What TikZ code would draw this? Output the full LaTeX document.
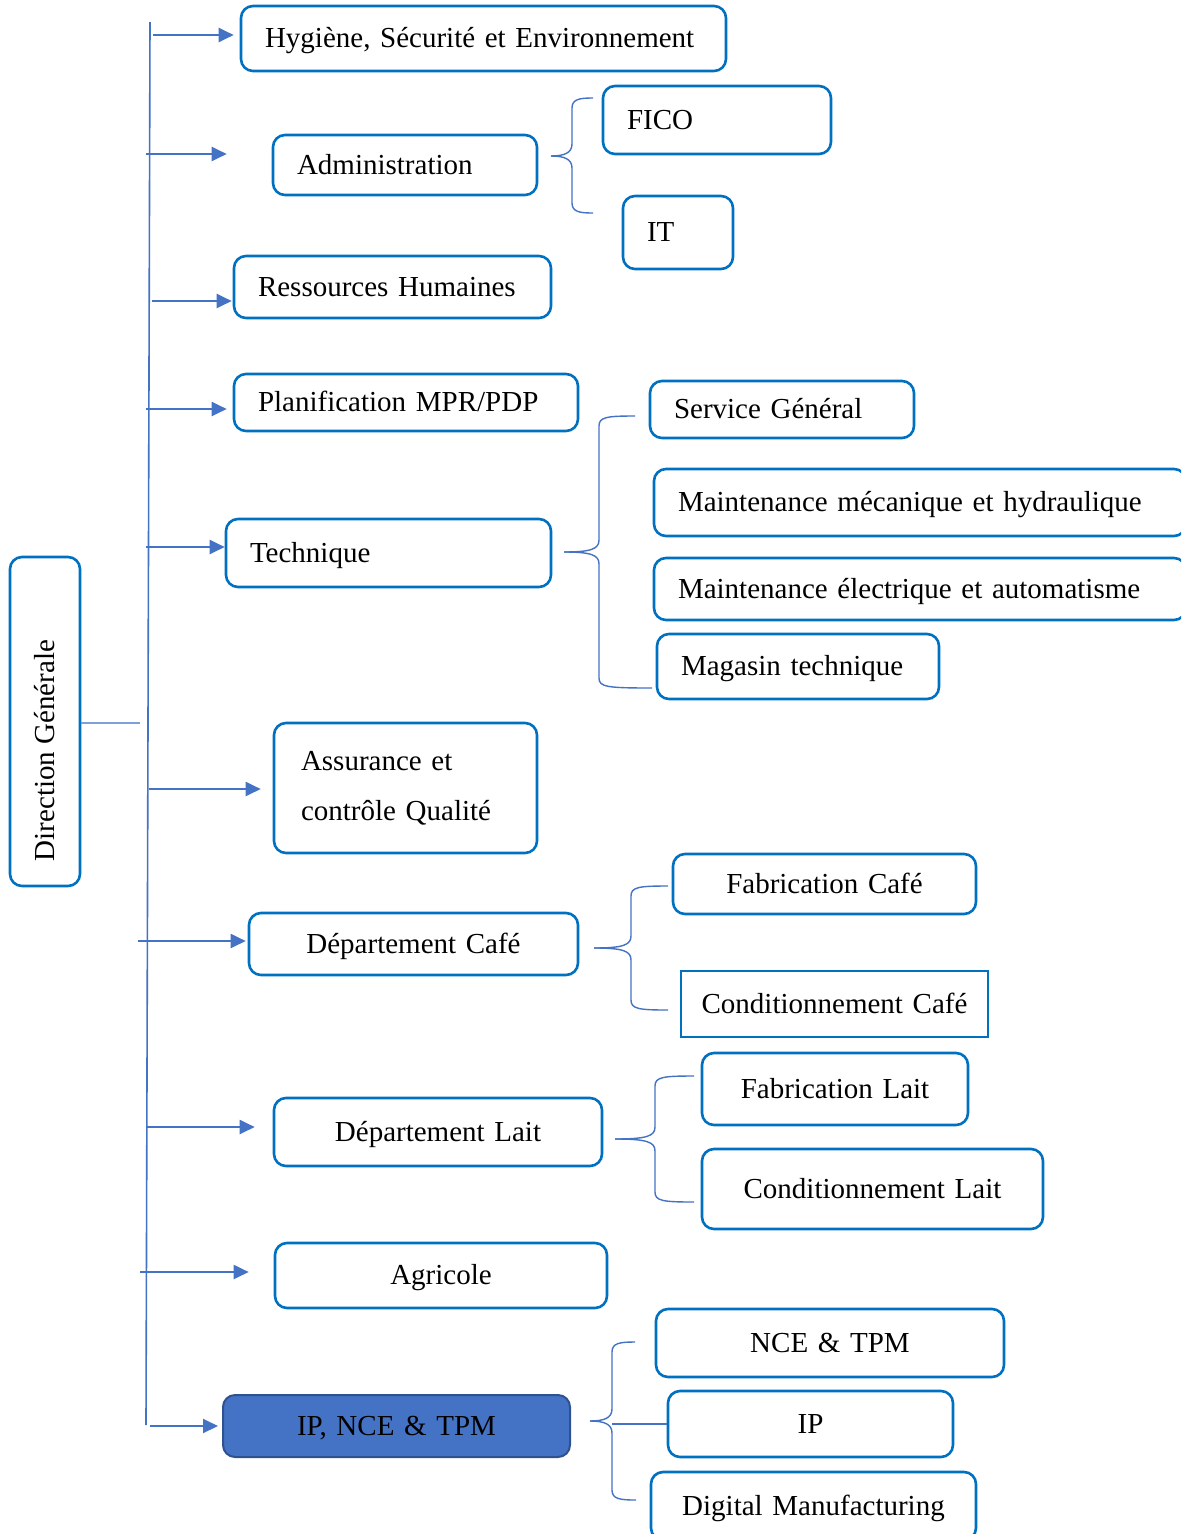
\documentclass[tikz,border=0pt]{standalone}
\usepackage{fontspec}
\setmainfont{Liberation Serif}
\usetikzlibrary{arrows.meta,calc}
\definecolor{boxblue}{HTML}{0070C0}
\definecolor{arrblue}{HTML}{4472C4}
\definecolor{darkblue}{HTML}{2F528F}
\definecolor{lineblue}{HTML}{7F9FDA}
\tikzset{
  box/.style={draw=boxblue, line width=2.6pt, rounded corners=12pt, fill=white,
    font=\fontsize{29}{35}\selectfont, inner ysep=0pt, text height=19pt, text depth=1pt},
  lbox/.style={box, align=left, inner xsep=24pt},
  cbox/.style={box, align=center, inner xsep=10pt},
  arr/.style={draw=arrblue, line width=2pt, -{Triangle[length=15pt,width=14pt]}},
  brace/.style={draw=arrblue, line width=1.4pt},
  spine/.style={draw=arrblue, line width=1.6pt},
}
\newcommand\orgbrace[7]{% tipx tipy xv ytop xtop ybot xbot
  \draw[brace] (#5,#4) .. controls ({#3+8},#4) and (#3,{#4+1}) .. (#3,{#4+10})
     -- (#3,{#2-12}) .. controls (#3,{#2-3}) and ({#3-8},#2) .. (#1,#2);
  \draw[brace] (#1,#2) .. controls ({#3-8},#2) and (#3,{#2+3}) .. (#3,{#2+12})
     -- (#3,{#6-10}) .. controls (#3,{#6-1}) and ({#3+8},#6) .. (#7,#6);}
\begin{document}
\begin{tikzpicture}[x=1pt,y=-1pt]
\useasboundingbox (0,0) rectangle (1181,1534);
\clip (0,0) rectangle (1181,1534);
\fill[white] (0,0) rectangle (1181,1534);

% spine
\coordinate (sptop) at (150,22);
\coordinate (spbot) at (146,1425);
\draw[spine] (sptop) -- (spbot);

% Direction Generale
\node[box, rotate=90, minimum width=329pt, minimum height=70pt, inner xsep=0pt] (dg) at (45,721.5)
  {Direction Générale\hspace*{58pt}};
\coordinate (dgend) at (140,723);
\draw[draw=lineblue, line width=1.2pt] (dg.south |- dgend) -- (dgend);

% first-level boxes
\node[lbox, minimum width=485pt, minimum height=65pt, text width=437pt] (hse) at (483.5,38.5) {Hygiène, Sécurité et Environnement};
\node[lbox, minimum width=264pt, minimum height=60pt, text width=216pt] (adm) at (405,165) {Administration};
\node[lbox, minimum width=317pt, minimum height=62pt, text width=269pt] (rh) at (392.5,287) {Ressources Humaines};
\node[lbox, minimum width=344pt, minimum height=57pt, text width=296pt] (plan) at (406,402.5) {Planification MPR/PDP};
\node[lbox, minimum width=325pt, minimum height=68pt, text width=277pt] (tech) at (388.5,553) {Technique};
\node[lbox, minimum width=263pt, minimum height=130pt, text width=209pt, inner xsep=27pt,
      text height=, text depth=, font=\fontsize{29}{50}\selectfont] (aqc) at (405.5,788) {Assurance et\\contrôle Qualité};
\node[cbox, minimum width=329pt, minimum height=62pt, text width=309pt] (dcafe) at (413.5,944) {Département Café};
\node[cbox, minimum width=328pt, minimum height=68pt, text width=308pt] (dlait) at (438,1132) {Département Lait};
\node[cbox, minimum width=332pt, minimum height=65pt, text width=312pt] (agri) at (441,1275.5) {Agricole};
\node[cbox, minimum width=347pt, minimum height=62pt, text width=327pt, draw=darkblue, fill=arrblue,
      line width=2pt] (ipn) at (396.5,1426) {IP, NCE \& TPM};

% second-level boxes
\node[lbox, minimum width=228pt, minimum height=68pt, text width=180pt] (fico) at (717,120) {FICO};
\node[lbox, minimum width=110pt, minimum height=73pt, text width=62pt] (it) at (678,232.5) {IT};
\node[lbox, minimum width=264pt, minimum height=57pt, text width=216pt] (sg) at (782,409.5) {Service Général};
\node[lbox, minimum width=532pt, minimum height=67pt, text width=484pt] (mmh) at (920,502.5) {Maintenance mécanique et hydraulique};
\node[lbox, minimum width=532pt, minimum height=62pt, text width=484pt] (mea) at (920,589) {Maintenance électrique et automatisme};
\node[lbox, minimum width=282pt, minimum height=65pt, text width=234pt] (mag) at (798,666.5) {Magasin technique};
\node[cbox, minimum width=303pt, minimum height=60pt, text width=283pt] (fcafe) at (824.5,884) {Fabrication Café};
\node[cbox, minimum width=307pt, minimum height=66pt, text width=287pt, rounded corners=0pt] (ccafe) at (834.5,1004) {Conditionnement Café};
\node[cbox, minimum width=266pt, minimum height=72pt, text width=246pt] (flait) at (835,1089) {Fabrication Lait};
\node[cbox, minimum width=341pt, minimum height=80pt, text width=321pt] (clait) at (872.5,1189) {Conditionnement Lait};
\node[cbox, minimum width=348pt, minimum height=68pt, text width=328pt] (nce) at (830,1343) {NCE \& TPM};
\node[cbox, minimum width=285pt, minimum height=66pt, text width=265pt] (ip) at (810.5,1424) {IP};
\node[cbox, minimum width=325pt, minimum height=68pt, text width=305pt] (dm) at (813.5,1506) {Digital Manufacturing};

% arrows from spine
\coordinate (s1) at (153,35);
\coordinate (s2) at (146,154);
\coordinate (s3) at (152,301);
\coordinate (s4) at (146,409);
\coordinate (s5) at (146,547);
\coordinate (s6) at (149,789);
\coordinate (s7) at (138,941);
\coordinate (s8) at (146,1127);
\coordinate (s9) at (140,1272);
\coordinate (s10) at (150,1426);
\draw[arr, shorten >=6pt] (s1) -- (s1 -| hse.west);
\draw[arr, shorten >=45pt] (s2) -- (s2 -| adm.west);
\draw[arr, shorten >=1pt] (s3) -- (s3 -| rh.west);
\draw[arr, shorten >=6pt] (s4) -- (s4 -| plan.west);
\draw[arr, shorten >=0pt] (s5) -- (s5 -| tech.west);
\draw[arr, shorten >=12pt] (s6) -- (s6 -| aqc.west);
\draw[arr, shorten >=2pt] (s7) -- (s7 -| dcafe.west);
\draw[arr, shorten >=18pt] (s8) -- (s8 -| dlait.west);
\draw[arr, shorten >=25pt] (s9) -- (s9 -| agri.west);
\draw[arr, shorten >=4pt] (s10) -- (s10 -| ipn.west);

% braces
\orgbrace{551}{156}{572}{98}{593}{213}{593}
\orgbrace{564}{552}{599}{416}{635}{688}{652}
\orgbrace{594}{948}{631}{886}{668}{1010}{668}
\orgbrace{615}{1139}{655}{1076}{694}{1202}{694}
\orgbrace{590}{1421}{612}{1342}{635}{1500}{636}
\coordinate (ipj) at (612,1424);
\draw[brace] (ipj) -- (ipj -| ip.west);
\end{tikzpicture}
\end{document}
